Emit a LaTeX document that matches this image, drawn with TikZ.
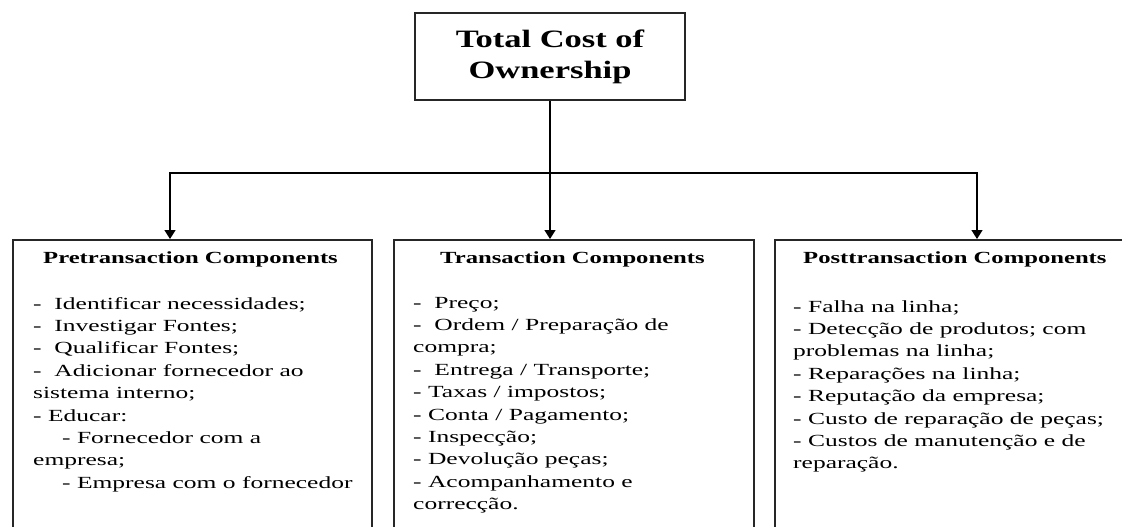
\documentclass[tikz,border=0pt]{standalone}
\usepackage{fontspec}
\usepackage{graphicx}
\setmainfont{Liberation Serif}
% wide serif faces for the chart
\newfontfamily\diagtitle{Liberation Serif}[FakeStretch=1.38]
\newfontfamily\diaghead{Liberation Serif}[FakeStretch=1.45]
\newfontfamily\diagbody{Liberation Serif}[FakeStretch=1.5]
\usetikzlibrary{arrows.meta}

\begin{document}
\begin{tikzpicture}[x=1pt,y=-1pt,
  frame/.style={draw=black!85, line width=1.6pt, inner sep=0pt},
  conn/.style={draw=black, line width=1.4pt, -{Triangle[width=11pt,length=9pt]}},
  head/.style={font=\diaghead\fontsize{17}{20}\selectfont\bfseries, inner sep=0pt, anchor=base west},
  body/.style={font=\diagbody\fontsize{17}{22.4}\selectfont, inner sep=0pt, anchor=base west},
]
\useasboundingbox (0,0) rectangle (1122,527);
\clip (0,0) rectangle (1122,527);

% root box
\node[frame, minimum width=270pt, minimum height=87pt,
      font=\diagtitle\fontsize{25}{31}\selectfont\bfseries] (tco) at (550,56.5)
  {\raisebox{3pt}{\begin{tabular}{@{}c@{}}Total Cost of\\Ownership\end{tabular}}};

% component boxes (open at the bottom edge)
\node[frame, anchor=north west, minimum width=359pt, minimum height=330pt] (b1) at (12,239) {};
\node[frame, anchor=north west, minimum width=360pt, minimum height=330pt] (b2) at (393,239) {};
\node[frame, anchor=north west, minimum width=360pt, minimum height=330pt] (b3) at (774,239) {};

% headings
\node[head] (h1) at (43,263) {Pretransaction Components};
\node[head] (h2) at (440,263) {Transaction Components};
\node[head] (h3) at (803,263) {Posttransaction Components};

% item lists
\node[body] (l1) at (33,309) {\parbox[t]{335pt}{\raggedright
-\ \ Identificar necessidades;\\
-\ \ Investigar Fontes;\\
-\ \ Qualificar Fontes;\\
-\ \ Adicionar fornecedor ao\\
sistema interno;\\
- Educar:\\
\hspace*{29pt}- Fornecedor com a\\
empresa;\\
\hspace*{29pt}- Empresa com o fornecedor}};

\node[body] (l2) at (413,308) {\parbox[t]{335pt}{\raggedright
-\ \ Preço;\\
-\ \ Ordem / Preparação de\\
compra;\\
-\ \ Entrega / Transporte;\\
- Taxas / impostos;\\
- Conta / Pagamento;\\
- Inspecção;\\
- Devolução peças;\\
- Acompanhamento e\\
correcção.}};

\node[body] (l3) at (793,312) {\parbox[t]{335pt}{\raggedright
- Falha na linha;\\
- Detecção de produtos; com\\
problemas na linha;\\
- Reparações na linha;\\
- Reputação da empresa;\\
- Custo de reparação de peças;\\
- Custos de manutenção e de\\
reparação.}};

% connectors
\draw[conn] (tco.south) -- ++(0,72) -| ([xshift=158pt]b1.north west);
\draw[conn] (tco.south) -- ([xshift=157pt]b2.north west);
\draw[conn] (tco.south) -- ++(0,72) -| ([xshift=203pt]b3.north west);
\end{tikzpicture}
\end{document}
